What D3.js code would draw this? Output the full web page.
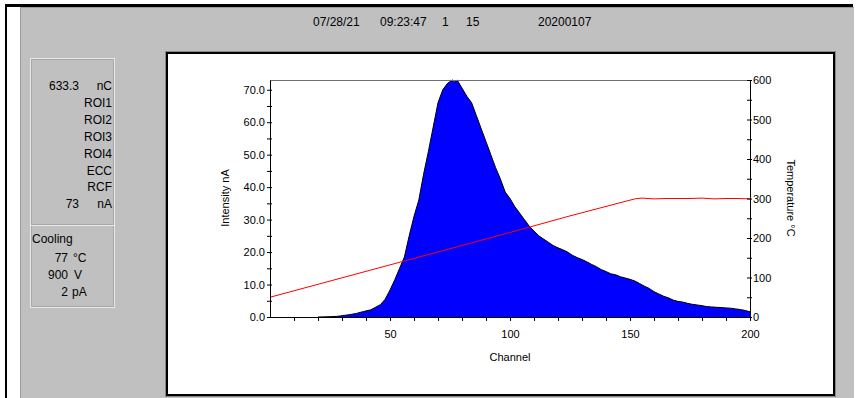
<!DOCTYPE html>
<html>
<head>
<meta charset="utf-8">
<script src="https://cdn.jsdelivr.net/npm/d3@7"></script>
<style>
  body { margin: 0; background: #fff; }
  text { font-family: "Liberation Sans", Arial, sans-serif; fill: #000; }
</style>
</head>
<body>
<div id="chart"></div>
<script>
// header strip text pieces
var headerText = ["07/28/21", "09:23:47", "1", "15", "20200107"];

// info panel rows (value, unit)
var infoRows = [["633.3", "nC"], ["", "ROI1"], ["", "ROI2"], ["", "ROI3"], ["", "ROI4"], ["", "ECC"], ["", "RCF"], ["73", "nA"]];
var coolRows = [["77", "\u00B0C"], ["900", "V"], ["2", "pA"]];

// glow curve (channel, intensity nA)
var channels = [0, 20, 25, 28, 30, 33, 36, 39, 42, 44, 46, 48, 50, 52, 54, 56, 58, 60, 62, 64, 66, 68, 70, 72, 74, 76, 77, 78, 80, 82, 84, 86, 88, 90, 92, 94, 96, 98, 100,
  102, 104, 106, 108, 110, 112, 114, 116, 118, 120, 122, 124, 126, 128, 130, 132, 134, 136, 138, 140, 142, 144, 146, 148, 150,
  152, 154, 156, 158, 160, 162, 164, 166, 168, 170, 172, 174, 176, 178, 180, 182, 184, 186, 188, 190, 192, 194, 196, 198, 200];
var intensity = [0, 0, 0.1, 0.2, 0.4, 0.7, 1.1, 1.7, 2.2, 3.0, 3.8, 5.5, 8.3, 11.5, 15, 18.5, 25, 31, 36, 44, 51, 58.5, 66, 70, 72, 73, 72.4, 73, 70.5, 68, 66, 62, 58, 54, 50, 46, 42.5, 38.5, 36.5,
  34, 32, 30, 28, 26.5, 25, 24, 23, 22, 21.3, 20.7, 20, 19, 18.3, 17.7, 17, 16.2, 15.5, 14.6, 14, 13.3, 13, 12.4, 12, 11.6,
  11.1, 10.3, 9.5, 8.8, 7.8, 7.1, 6.4, 5.9, 5.2, 4.8, 4.6, 4.2, 3.9, 3.7, 3.5, 3.2, 3.1, 3.0, 2.9, 2.8, 2.7, 2.5, 2.3, 2.0, 1.6];

// temperature profile (channel, °C)
var tempChannels = [0, 25, 50, 75, 100, 125, 152, 155, 160, 165, 170, 175, 180, 185, 190, 195, 200];
var temperature = [50, 91, 132, 173, 214, 256, 299, 301, 299, 300, 300, 300, 301, 299, 300, 300, 299];

var yTicks = [0, 10, 20, 30, 40, 50, 60, 70];
var yMinor = [5, 15, 25, 35, 45, 55, 65];
var tTicks = [0, 100, 200, 300, 400, 500, 600];
var tMinor = [50, 150, 250, 350, 450, 550];
var xTicks = [50, 100, 150, 200];
var xMinor = d3.range(10, 201, 10);

var svg = d3.select("#chart").append("svg")
  .attr("width", 857).attr("height", 398);

// window frame
svg.append("rect").attr("x", 0).attr("y", 0).attr("width", 857).attr("height", 398).attr("fill", "#fff");
svg.append("rect").attr("x", 20).attr("y", 7).attr("width", 834).attr("height", 391).attr("fill", "#c0c0c0");
svg.append("line").attr("x1", 20.5).attr("x2", 20.5).attr("y1", 7).attr("y2", 398).attr("stroke", "#9a9a9a");
svg.append("line").attr("x1", 20).attr("x2", 854).attr("y1", 7.5).attr("y2", 7.5).attr("stroke", "#9a9a9a");
svg.append("rect").attr("x", 5).attr("y", 4).attr("width", 848).attr("height", 3).attr("fill", "#000");
svg.append("rect").attr("x", 5).attr("y", 4).attr("width", 2).attr("height", 394).attr("fill", "#000");

// header
var headerX = [313, 380, 442, 466, 538];
svg.selectAll(".hdr").data(headerText).enter().append("text")
  .attr("x", (d, i) => headerX[i]).attr("y", 26)
  .style("font-size", "12px").text(d => d);

// info panel
svg.append("rect").attr("x", 30.5).attr("y", 58.5).attr("width", 84).attr("height", 249)
  .attr("fill", "none").attr("stroke", "#e8e8e8");
svg.append("rect").attr("x", 31.5).attr("y", 59.5).attr("width", 82).attr("height", 247)
  .attr("fill", "none").attr("stroke", "#a8a8a8");
svg.append("line").attr("x1", 31).attr("x2", 114).attr("y1", 224.5).attr("y2", 224.5).attr("stroke", "#a8a8a8");
svg.append("line").attr("x1", 31).attr("x2", 114).attr("y1", 225.5).attr("y2", 225.5).attr("stroke", "#e8e8e8");

var info = svg.append("g").style("font-size", "12px");
infoRows.forEach(function(r, i) {
  var yy = 90 + i * 16.9;
  info.append("text").attr("x", 79).attr("y", yy).attr("text-anchor", "end").text(r[0]);
  info.append("text").attr("x", 112).attr("y", yy).attr("text-anchor", "end").text(r[1]);
});
info.append("text").attr("x", 32).attr("y", 243).text("Cooling");
var coolUnitX = [73, 74, 72];
coolRows.forEach(function(r, i) {
  var yy = 262 + i * 17;
  info.append("text").attr("x", 68).attr("y", yy).attr("text-anchor", "end").text(r[0]);
  info.append("text").attr("x", coolUnitX[i]).attr("y", yy).text(r[1]);
});

// chart box
svg.append("rect").attr("x", 165.5).attr("y", 51.5).attr("width", 670).attr("height", 345)
  .attr("fill", "none").attr("stroke", "#888");
svg.append("rect").attr("x", 167).attr("y", 53).attr("width", 667).attr("height", 342)
  .attr("fill", "#fff").attr("stroke", "#000").attr("stroke-width", 2);

// scales
var x = d3.scaleLinear().domain([0, 200]).range([270, 750]);
var y = d3.scaleLinear().domain([0, 73]).range([317, 80]);
var yT = d3.scaleLinear().domain([0, 600]).range([317, 80]);

var glow = channels.map((c, i) => ({c: c, v: intensity[i]}));
var temps = tempChannels.map((c, i) => ({c: c, t: temperature[i]}));

svg.append("path").datum(glow)
  .attr("fill", "#0000ff")
  .attr("d", d3.area().x(d => x(d.c)).y0(y(0)).y1(d => y(d.v)));
svg.append("path").datum(glow.filter(d => d.c >= 20))
  .attr("fill", "none").attr("stroke", "#000").attr("stroke-width", 1)
  .attr("d", d3.line().x(d => x(d.c)).y(d => y(d.v)));

svg.append("path").datum(temps)
  .attr("fill", "none").attr("stroke", "#ff0000").attr("stroke-width", 1)
  .attr("d", d3.line().x(d => x(d.c)).y(d => yT(d.t)));

// top frame line
svg.append("line").attr("x1", 270).attr("x2", 750).attr("y1", 80.5).attr("y2", 80.5).attr("stroke", "#707070");

// axes
function styleAxis(g) {
  g.selectAll("path").attr("stroke", "#000");
  g.selectAll("line").attr("stroke", "#000");
  g.selectAll("text").style("font-size", "11px").attr("fill", "#000").style("font-family", "'Liberation Sans', Arial, sans-serif");
}

var gx = svg.append("g").attr("transform", "translate(0,317)")
  .call(d3.axisBottom(x).tickValues(xMinor).tickSizeInner(4).tickSizeOuter(0).tickFormat(""));
styleAxis(gx);
var gxl = svg.append("g").attr("transform", "translate(0,317)")
  .call(d3.axisBottom(x).tickValues(xTicks).tickSize(0).tickPadding(13).tickFormat(d3.format("d")));
gxl.select(".domain").remove();
styleAxis(gxl);

var gy = svg.append("g").attr("transform", "translate(270,0)")
  .call(d3.axisLeft(y).tickValues(yTicks.concat(yMinor)).tickSizeInner(3).tickSizeOuter(0).tickPadding(2)
    .tickFormat(d => yTicks.indexOf(d) >= 0 ? d3.format(".1f")(d) : ""));
gy.selectAll(".tick line").attr("x2", 2).attr("x1", -3);
styleAxis(gy);

var gt = svg.append("g").attr("transform", "translate(750,0)")
  .call(d3.axisRight(yT).tickValues(tTicks.concat(tMinor)).tickSizeInner(2).tickSizeOuter(0).tickPadding(1)
    .tickFormat(d => tTicks.indexOf(d) >= 0 ? d : ""));
gt.selectAll(".tick line").attr("x1", -3).attr("x2", 2);
styleAxis(gt);

// axis titles
svg.append("text").attr("x", x(100)).attr("y", 361).attr("text-anchor", "middle")
  .style("font-size", "11px").text("Channel");
svg.append("text").attr("transform", "translate(229,198) rotate(-90)").attr("text-anchor", "middle")
  .style("font-size", "11px").text("Intensity nA");
svg.append("text").attr("transform", "translate(787,198) rotate(90)").attr("text-anchor", "middle")
  .style("font-size", "11px").text("Temperature \u00B0C");
</script>
</body>
</html>
